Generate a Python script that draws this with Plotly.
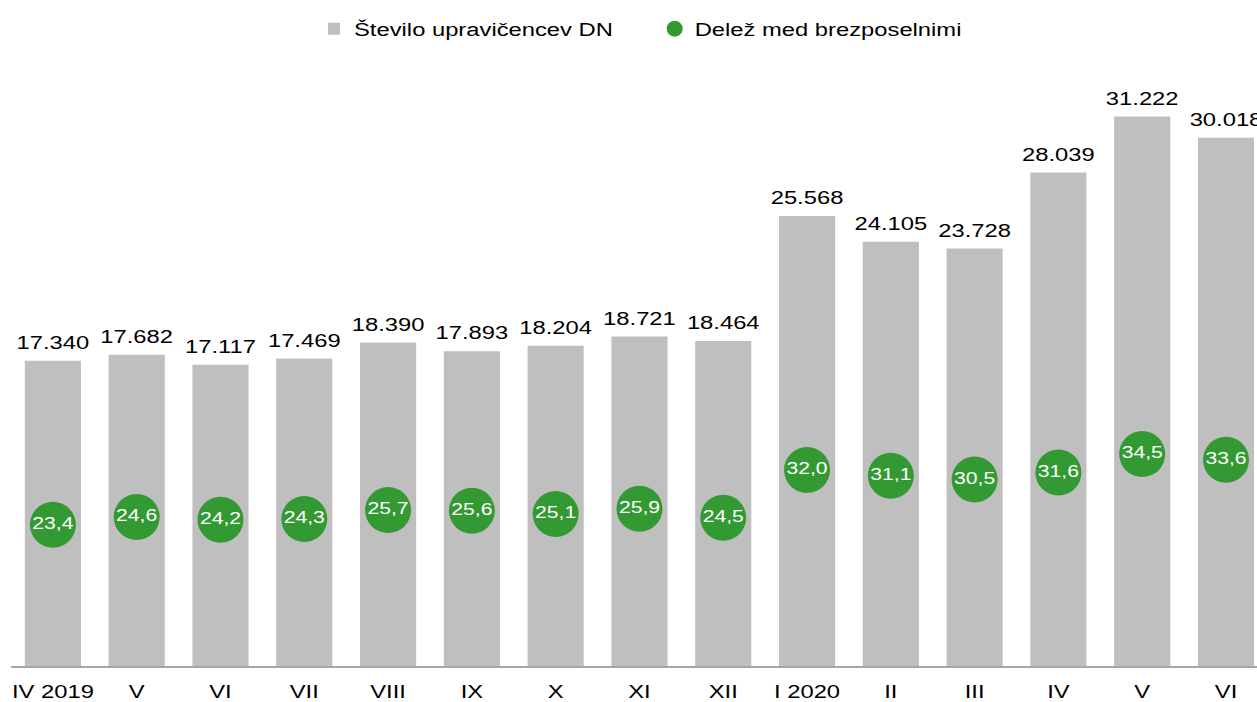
import plotly.graph_objects as go

months = ["IV 2019", "V", "VI", "VII", "VIII", "IX", "X", "XI", "XII",
          "I 2020", "II", "III", "IV", "V", "VI"]
recipients = [17340, 17682, 17117, 17469, 18390, 17893, 18204, 18721, 18464,
              25568, 24105, 23728, 28039, 31222, 30018]
share = [23.4, 24.6, 24.2, 24.3, 25.7, 25.6, 25.1, 25.9, 24.5,
         32.0, 31.1, 30.5, 31.6, 34.5, 33.6]

x = list(range(len(months)))
FONT = "Arial, Liberation Sans, sans-serif"

fig = go.Figure()
fig.add_trace(go.Bar(
    x=x, y=recipients, name="Število upravičencev DN",
    marker=dict(color="#bfbfbf", line=dict(width=0)),
    width=0.67, hoverinfo="x+y",
    legend="legend",
))
# value labels above the bars
fig.add_trace(go.Scatter(
    x=x, y=recipients, mode="markers+text", showlegend=False, hoverinfo="skip",
    marker=dict(size=10, color="rgba(0,0,0,0)"),
    texttemplate="%{y:,}", textposition="top center",
    textfont=dict(size=18, color="#000000", family=FONT),
    cliponaxis=False,
))
fig.add_trace(go.Scatter(
    x=x, y=share, name="Delež med brezposelnimi", yaxis="y2",
    mode="markers+text",
    marker=dict(color="#339933", size=46, line=dict(width=0)),
    texttemplate="%{y:.1f}", textposition="middle center",
    textfont=dict(size=16, color="#ffffff", family=FONT),
    cliponaxis=False,
    legend="legend2",
))

leg_common = dict(orientation="h", xanchor="left", y=1.087, yanchor="middle",
                  font=dict(size=18, family=FONT, color="#000000"), itemwidth=30,
                  entrywidth=320, entrywidthmode="pixels",
                  bgcolor="rgba(0,0,0,0)")

fig.update_layout(
    width=1257, height=702,
    margin=dict(l=11, r=0, t=80, b=33),
    paper_bgcolor="white", plot_bgcolor="white",
    separators=",.",
    font=dict(family=FONT, size=18, color="#000000"),
    showlegend=True,
    legend=dict(x=0.2432, **leg_common),
    legend2=dict(x=0.5166, **leg_common),
    xaxis=dict(range=[-0.5, 14.37], tickmode="array", tickvals=x, ticktext=months,
               showgrid=False, zeroline=False, showline=True, linecolor="#a6a6a6",
               linewidth=2, ticks="", ticklabelstandoff=8,
               tickfont=dict(size=18, family=FONT)),
    yaxis=dict(range=[0, 33300], showgrid=False, zeroline=False, showticklabels=False,
               showline=False),
    yaxis2=dict(range=[1.2, 93.3], overlaying="y", side="right", showgrid=False,
                zeroline=False, showticklabels=False, showline=False),
    bargap=0.33,
)

post = """
var gd = document.getElementById('{plot_id}');
var s = document.createElement('style');
s.textContent = 'html,body{margin:0;padding:0;overflow:hidden}';
document.head.appendChild(s);
function stretchText(){
  gd.querySelectorAll('.main-svg text').forEach(function(t){
    var txt = t.textContent;
    if(!txt || t.getAttribute('data-stretched') === txt) return;
    t.removeAttribute('textLength');
    var L = t.getComputedTextLength();
    if(L > 0){
      t.setAttribute('textLength', (L * 1.32).toFixed(2));
      t.setAttribute('lengthAdjust', 'spacingAndGlyphs');
      t.setAttribute('data-stretched', txt);
    }
  });
}
stretchText();
setTimeout(stretchText, 30);
setTimeout(stretchText, 300);
gd.on('plotly_afterplot', function(){ setTimeout(stretchText, 0); });
"""

fig.write_html("out.html", post_script=post, config={"displayModeBar": False})
